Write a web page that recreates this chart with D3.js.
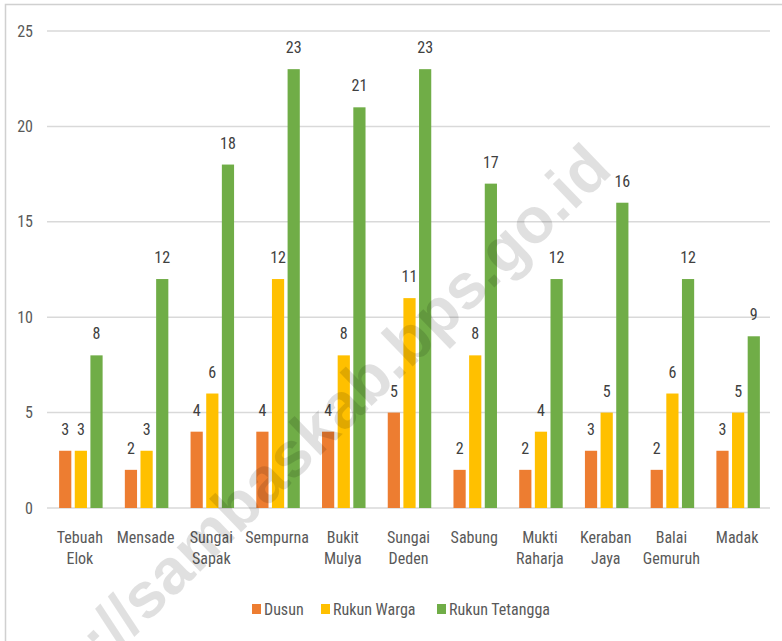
<!DOCTYPE html>
<html>
<head>
<meta charset="utf-8">
<script src="https://cdn.jsdelivr.net/npm/d3@7"></script>
<style>
  html, body { margin: 0; padding: 0; background: #fff; }
  svg { display: block; }
  text { font-family: "Liberation Sans Narrow", "Arial Narrow", "Roboto Condensed", "DejaVu Sans Condensed", sans-serif; }
</style>
</head>
<body>
<div id="chart"></div>
<script>
const categories = [["Tebuah","Elok"],["Mensade"],["Sungai","Sapak"],["Sempurna"],["Bukit","Mulya"],["Sungai","Deden"],["Sabung"],["Mukti","Raharja"],["Keraban","Jaya"],["Balai","Gemuruh"],["Madak"]];
const seriesNames = ["Dusun", "Rukun Warga", "Rukun Tetangga"];
const dusun = [3, 2, 4, 4, 4, 5, 2, 2, 3, 2, 3];
const rukunWarga = [3, 3, 6, 12, 8, 11, 8, 4, 5, 6, 5];
const rukunTetangga = [8, 12, 18, 23, 21, 23, 17, 12, 16, 12, 9];
const yTicks = [0, 5, 10, 15, 20, 25];
const colors = ["#ED7D31", "#FFC000", "#70AD47"];
const watermark = "http://sambaskab.bps.go.id";

const W = 782, H = 641;
const svg = d3.select("#chart").append("svg").attr("width", W).attr("height", H);

// frame
svg.append("path").attr("d", `M5.5,${H} L5.5,4.5 L${W},4.5`).attr("fill", "none").attr("stroke", "#d0d0d0").attr("stroke-width", 1.5);

const plot = { left: 47, right: 770, top: 31, bottom: 508 };
const x = d3.scaleBand().domain(d3.range(categories.length)).range([plot.left, plot.right]).padding(0);
const y = d3.scaleLinear().domain([0, 25]).range([plot.bottom, plot.top]);
const inner = d3.scaleBand().domain(d3.range(3)).range([0, 43.5]).paddingInner(0.22);
const groupOffset = (x.bandwidth() - 43.5) / 2 + 1;

// gridlines
svg.append("g").selectAll("line").data(yTicks).join("line")
  .attr("x1", plot.left).attr("x2", plot.right)
  .attr("y1", d => y(d)).attr("y2", d => y(d))
  .attr("stroke", "#d9d9d9").attr("stroke-width", 1.5);

// y axis labels
const yAxis = d3.axisLeft(y).tickValues(yTicks).tickSize(0).tickPadding(14);
const yg = svg.append("g").attr("transform", `translate(${plot.left},0)`).call(yAxis);
yg.select(".domain").remove();
yg.selectAll("text").attr("font-size", 16).attr("fill", "#595959").style("font-family", null);

const series = [dusun, rukunWarga, rukunTetangga];
series.forEach((vals, si) => {
  const g = svg.append("g");
  g.selectAll("rect").data(vals).join("rect")
    .attr("x", (d, i) => x(i) + groupOffset + inner(si))
    .attr("width", inner.bandwidth())
    .attr("y", d => y(d))
    .attr("height", d => y(0) - y(d))
    .attr("fill", colors[si]);
  g.selectAll("text").data(vals).join("text")
    .attr("x", (d, i) => x(i) + groupOffset + inner(si) + inner.bandwidth() / 2)
    .attr("y", d => y(d) - 16)
    .attr("text-anchor", "middle")
    .attr("font-size", 16)
    .attr("fill", "#404040")
    .text(d => d);
});

// x labels
const xl = svg.append("g").selectAll("text").data(categories).join("text")
  .attr("x", (d, i) => x(i) + x.bandwidth() / 2)
  .attr("y", 543)
  .attr("text-anchor", "middle")
  .attr("font-size", 16)
  .attr("fill", "#595959");
xl.each(function(d) {
  d3.select(this).selectAll("tspan").data(d).join("tspan")
    .attr("x", d3.select(this).attr("x"))
    .attr("dy", (t, j) => j === 0 ? 0 : 21)
    .text(t => t);
});

// legend
const legendX = [252, 321, 437];
const lg = svg.append("g");
seriesNames.forEach((name, i) => {
  lg.append("rect").attr("x", legendX[i]).attr("y", 604).attr("width", 9).attr("height", 10).attr("fill", colors[i]);
  lg.append("text").attr("x", legendX[i] + 12).attr("y", 615).attr("font-size", 16).attr("fill", "#595959").text(name);
});

// watermark
svg.append("text")
  .attr("transform", "translate(614,172) rotate(-44)")
  .attr("text-anchor", "end")
  .attr("font-size", 64)
  .attr("font-weight", "bold")
  .style("font-family", "'Liberation Sans', Arial, sans-serif")
  .attr("fill", "#000")
  .attr("fill-opacity", 0.12)
  .text(watermark);
</script>
</body>
</html>
